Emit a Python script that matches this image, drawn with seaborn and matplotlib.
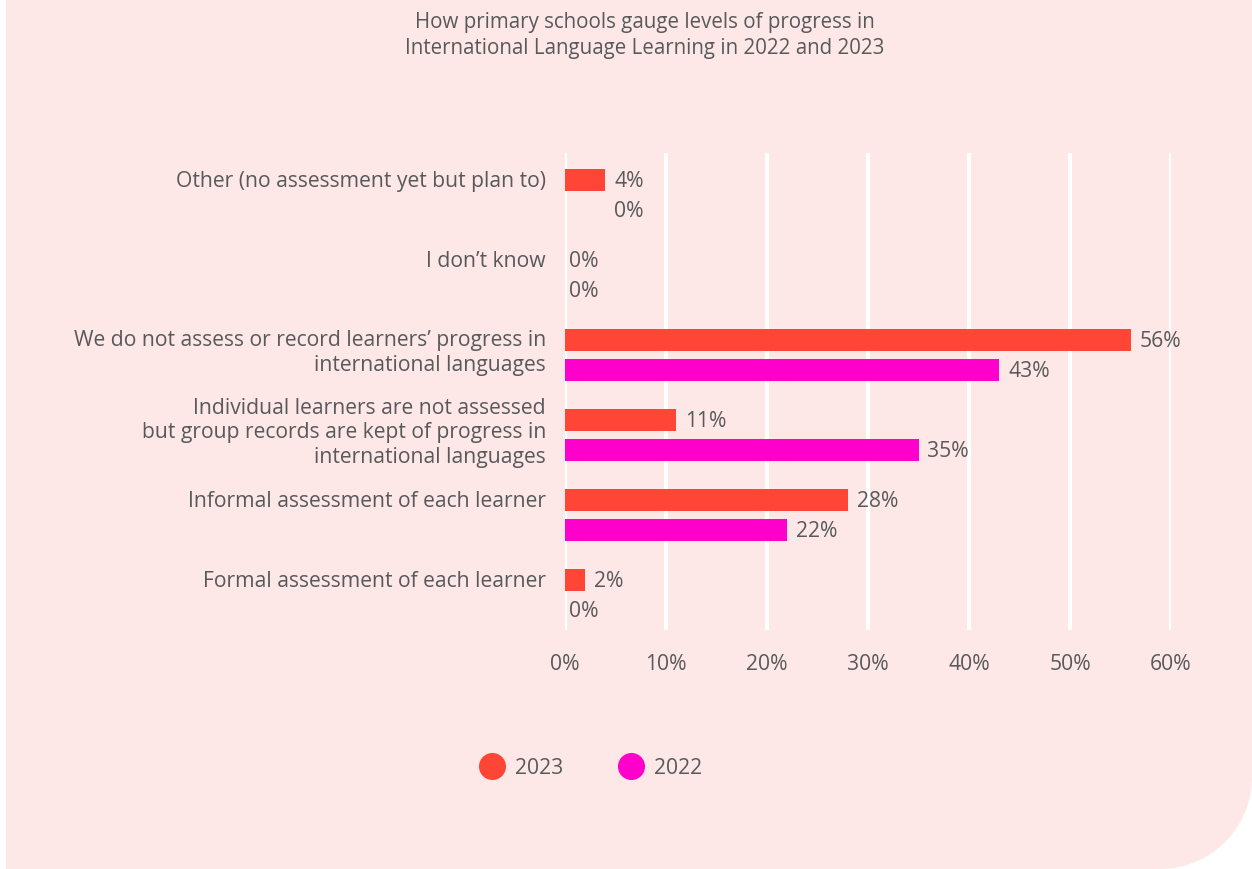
import numpy as np
import pandas as pd
import matplotlib
matplotlib.use("Agg")
import matplotlib.pyplot as plt
from matplotlib.patches import PathPatch
from matplotlib.path import Path
from matplotlib.lines import Line2D
import seaborn as sns

# ---------------- data ----------------
categories = [
    "Other (no assessment yet but plan to)",
    "I don’t know",
    "We do not assess or record learners’ progress in\ninternational languages",
    "Individual learners are not assessed\nbut group records are kept of progress in\ninternational languages",
    "Informal assessment of each learner",
    "Formal assessment of each learner",
]
years = ["2023", "2022"]
values_2023 = [4, 0, 56, 11, 28, 2]
values_2022 = [0, 0, 43, 35, 22, 0]
x_ticks = [0, 10, 20, 30, 40, 50, 60]
x_tick_labels = ["0%", "10%", "20%", "30%", "40%", "50%", "60%"]
title = "How primary schools gauge levels of progress in\nInternational Language Learning in 2022 and 2023"

colors = {"2023": "#FF4636", "2022": "#FF00CC"}
bg = "#FDE8E7"
text_color = "#58595B"
FS = 15.2

df = pd.DataFrame({
    "category": categories * 2,
    "year": ["2023"] * len(categories) + ["2022"] * len(categories),
    "value": values_2023 + values_2022,
})

# ---------------- figure ----------------
sns.set_theme(style="white")
plt.rcParams["font.family"] = ["Open Sans", "DejaVu Sans"]
W, H = 1252, 869
fig = plt.figure(figsize=(W / 100, H / 100), dpi=100, facecolor="white")

# pink panel with rounded bottom-right corner (pixel geometry -> figure fraction)
x0, x1, y0, y1, r = 6, W, 0, H, 92
pts = [(x0, y0), (x1, y0), (x1, y1 - r)]
for a in np.linspace(0, np.pi / 2, 40):
    pts.append((x1 - r + r * np.cos(a), y1 - r + r * np.sin(a)))
pts += [(x0, y1), (x0, y0)]
pts = np.array(pts, dtype=float)
pts_f = np.column_stack([pts[:, 0] / W, 1 - pts[:, 1] / H])
panel = PathPatch(Path(pts_f), transform=fig.transFigure, facecolor=bg,
                  edgecolor="none", zorder=-10)
fig.patches.append(panel)

ax_left, ax_right, ax_top, ax_bot = 565, 1171, 153, 630
ax = fig.add_axes([ax_left / W, 1 - ax_bot / H, (ax_right - ax_left) / W, (ax_bot - ax_top) / H])
ax.set_facecolor("none")

sns.barplot(data=df, y="category", x="value", hue="year", hue_order=years,
            palette=colors, orient="h", width=0.75, gap=0.25, saturation=1,
            linewidth=0, edgecolor="none", legend=False, ax=ax, zorder=3)

ax.set_xlim(0, 60)
ax.set_ylim(5.44, -0.525)
ax.set_xticks(x_ticks)
ax.set_xticklabels(x_tick_labels, fontsize=FS, color=text_color)
ax.tick_params(axis="x", length=0, pad=17)
ax.set_yticks(range(len(categories)))
ax.set_yticklabels([""] * len(categories))
ax.tick_params(axis="y", length=0)
ax.set_xlabel("")
ax.set_ylabel("")
for s in ax.spines.values():
    s.set_visible(False)
ax.xaxis.grid(True, color="white", linewidth=3, zorder=0)
ax.yaxis.grid(False)
ax.set_axisbelow(True)

# value labels
for hi, cont in enumerate(ax.containers):
    vals = values_2023 if hi == 0 else values_2022
    for ci, bar in enumerate(cont):
        v = vals[ci]
        yc = bar.get_y() + bar.get_height() / 2
        xpos = bar.get_width()
        if hi == 1 and ci == 0:
            xpos = values_2023[ci]  # label sits under the 2023 label in reference
        off = 9 if v > 0 or (hi == 1 and ci == 0) else 4
        ax.annotate(f"{v}%", xy=(xpos, yc), xytext=(off, -2), textcoords="offset pixels",
                    ha="left", va="center", fontsize=FS, color=text_color)

# category labels
for ci, cat in enumerate(categories):
    nlines = cat.count("\n") + 1
    yc = ci - 0.1875 if nlines == 1 else ci - 0.05
    ax.annotate(cat, xy=(0, yc), xytext=(-19, -2), textcoords="offset pixels",
                ha="right", va="center", fontsize=FS, color=text_color,
                multialignment="right", linespacing=1.2)

# title
fig.text(645 / W, 1 - 35.5 / H, title, ha="center", va="center", fontsize=14.8,
         color=text_color, linespacing=1.28)

# legend
handles = [Line2D([], [], marker="o", linestyle="none", markersize=19.5,
                  markerfacecolor=colors[y], markeredgecolor="none") for y in years]
fig.legend(handles, years, loc="center", bbox_to_anchor=(591 / W, 1 - 768 / H),
           ncol=2, frameon=False, fontsize=FS, labelcolor=text_color,
           handletextpad=0.5, columnspacing=2.6, handlelength=1.2)

fig.savefig("out.png", dpi=100, facecolor="white")
